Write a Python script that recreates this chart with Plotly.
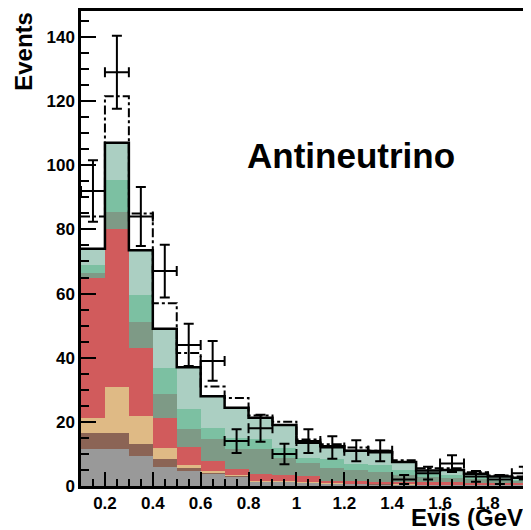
import plotly.graph_objects as go

# Evis bins (GeV), width 0.1
bin_centers = [0.15, 0.25, 0.35, 0.45, 0.55, 0.65, 0.75, 0.85, 0.95, 1.05,
               1.15, 1.25, 1.35, 1.45, 1.55, 1.65, 1.75, 1.85, 1.95]
bin_edges = [0.1, 0.2, 0.3, 0.4, 0.5, 0.6, 0.7, 0.8, 0.9, 1.0,
             1.1, 1.2, 1.3, 1.4, 1.5, 1.6, 1.7, 1.8, 1.9, 2.0]

# stacked MC, read as cumulative heights (top of each layer)
mc_light = [74, 107, 73.5, 49, 37, 28, 24.4, 21.3, 19, 13.5, 12.4, 11, 10.5, 7.5, 4.8, 5, 3.8, 3, 2.6]
mc_medium = [69, 95.5, 59.7, 36.8, 24, 18.2, 15, 14.5, 12, 8.8, 8.5, 7, 6.5, 5, 3.8, 3.5, 2.8, 2.2, 2]
mc_dark = [66.5, 85.5, 51, 28.6, 17.8, 14.5, 11.4, 11.5, 8.8, 7.3, 5.5, 5, 4.5, 3.5, 2.8, 2.5, 2.2, 1.6, 1.5]
mc_red = [65, 80, 43, 21.2, 12.3, 7.8, 5.2, 3.6, 3.5, 3.1, 1.6, 1.5, 1.4, 1.3, 1.2, 1.1, 1, 1, 0.9]
mc_tan = [21.2, 30.8, 21.8, 11.9, 6.5, 4.6, 3.4, 1.7, 1.7, 1.2, 0.8, 0.6, 0.5, 0.4, 0.3, 0.3, 0.2, 0.2, 0.2]
mc_brown = [16.5, 16.5, 13.2, 8.4, 5.6, 4.2, 3.2, 1.4, 1.4, 1, 0.7, 0.5, 0.4, 0.3, 0.3, 0.2, 0.2, 0.2, 0.1]
mc_gray = [11.6, 11.6, 9.2, 6, 4.7, 3.7, 2.9, 1.2, 1.2, 0.8, 0.6, 0.4, 0.3, 0.2, 0.2, 0.2, 0.1, 0.1, 0.1]

# dash-dot total
mc_alt = [84, 121.5, 85, 57, 41.5, 31, 27.4, 22, 20, 14.5, 13, 12, 11, 8, 5.5, 5.5, 4.3, 3.3, 3]

# data
data_evt = [92, 129, 84, 67, 44, 39, 14, 18, 10, 14, 12, 11, 11, 2, 4, 7, 3, 2, 4]
data_err = [9.6, 11.4, 9.2, 8.2, 6.6, 6.2, 3.7, 4.2, 3.2, 3.7, 3.5, 3.3, 3.3, 1.4, 2.0, 2.6, 1.7, 1.4, 2.0]
half_bin = [0.05] * len(bin_centers)

FONT = "Liberation Sans, Arial, sans-serif"

layers = [
    (mc_light, "#abcfc2"),
    (mc_medium, "#7cc0a2"),
    (mc_dark, "#7e9a86"),
    (mc_red, "#d15b5c"),
    (mc_tan, "#dfba85"),
    (mc_brown, "#8b6455"),
    (mc_gray, "#999999"),
]

fig = go.Figure()
for vals, col in layers:
    fig.add_trace(go.Bar(x=bin_centers, y=vals, width=0.1,
                         marker=dict(color=col, opacity=1, line=dict(width=0)),
                         showlegend=False))

# outlines as step lines over bin edges
fig.add_trace(go.Scatter(x=bin_edges, y=mc_alt + [mc_alt[-1]], mode="lines",
                         line=dict(color="black", width=2, dash="dashdot", shape="hv"),
                         showlegend=False))
fig.add_trace(go.Scatter(x=bin_edges, y=mc_light + [mc_light[-1]], mode="lines",
                         line=dict(color="black", width=2.5, shape="hv"),
                         showlegend=False))

fig.add_trace(go.Scatter(x=bin_centers, y=data_evt, mode="markers",
                         marker=dict(color="black", size=2),
                         error_x=dict(type="data", array=half_bin, color="black", thickness=2, width=5),
                         error_y=dict(type="data", array=data_err, color="black", thickness=2, width=5),
                         showlegend=False))

fig.add_annotation(text="<b>Antineutrino</b>", x=1.23, y=103, xref="x", yref="y",
                   showarrow=False, xanchor="center", yanchor="middle",
                   font=dict(family=FONT, size=35, color="black"))
fig.add_annotation(text="<b>Events</b>", x=-0.127, y=0.916, xref="paper", yref="paper",
                   showarrow=False, textangle=-90, xanchor="center", yanchor="middle",
                   font=dict(family=FONT, size=24, color="black"))
fig.add_annotation(text="<b>Evis (GeV)</b>", x=0.729, y=-0.067, xref="paper", yref="paper",
                   showarrow=False, xanchor="left", yanchor="middle",
                   font=dict(family=FONT, size=24, color="black"))

# page body has an 8px margin, so the figure is sized/offset to land on the reference frame
fig.update_layout(
    width=523, height=522,
    margin=dict(l=73, r=0, t=1, b=44),
    paper_bgcolor="white", plot_bgcolor="white",
    barmode="overlay", bargap=0,
    showlegend=False,
    xaxis=dict(range=[0.1, 1.98], showgrid=False, zeroline=False,
               showline=True, linecolor="black", linewidth=2.5, mirror=True,
               ticks="inside", ticklen=14, tickwidth=2, tickcolor="black",
               tick0=0, dtick=0.2,
               minor=dict(ticks="inside", ticklen=7, tickwidth=2, tickcolor="black", dtick=0.05),
               tickfont=dict(family=FONT, size=17, color="black", weight="bold")),
    yaxis=dict(range=[0, 148.1], showgrid=False, zeroline=False,
               showline=True, linecolor="black", linewidth=2.5,
               ticks="inside", ticklen=15, tickwidth=2, tickcolor="black",
               tick0=0, dtick=20,
               minor=dict(ticks="inside", ticklen=8, tickwidth=2, tickcolor="black", dtick=5),
               tickfont=dict(family=FONT, size=17, color="black", weight="bold")),
)

fig.write_html("out.html")
